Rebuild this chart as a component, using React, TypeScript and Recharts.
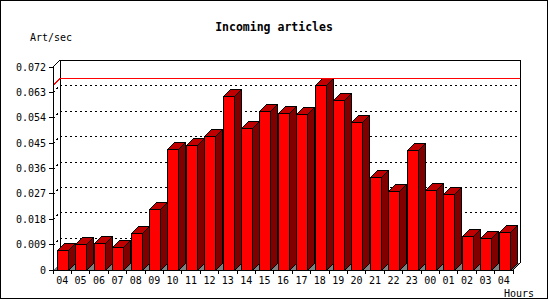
import { BarChart, Bar, XAxis, YAxis, CartesianGrid, ReferenceLine } from 'recharts'

const HOURS = [
  '04', '05', '06', '07', '08', '09', '10', '11', '12', '13', '14', '15', '16',
  '17', '18', '19', '20', '21', '22', '23', '00', '01', '02', '03', '04',
]
const ART_PER_SEC = [
  0.0071, 0.0091, 0.0095, 0.008, 0.013, 0.0215, 0.043, 0.0443, 0.0477, 0.0618,
  0.0503, 0.0564, 0.0556, 0.0552, 0.0655, 0.0603, 0.0524, 0.0331, 0.0279,
  0.0426, 0.0283, 0.0268, 0.012, 0.0112, 0.0134,
]
const Y_TICKS = [0, 0.009, 0.018, 0.027, 0.036, 0.045, 0.054, 0.063, 0.072]

const W = 550
const H = 300
const PLOT_LEFT = 53
const PLOT_TOP = 67
const PLOT_RIGHT = 513
const PLOT_BOTTOM = 270
const DEPTH = 7
const BAND = (PLOT_RIGHT - PLOT_LEFT) / HOURS.length
const FONT = '"DejaVu Sans Mono", monospace'

const data = HOURS.map((hour, i) => ({ hour, value: ART_PER_SEC[i] }))
const maxValue = Math.max(...ART_PER_SEC)

// front face + top + right side, like the old gd 3d bars
function Bar3D(props: any) {
  const { x, y, width, height } = props
  const d = DEPTH
  const x0 = Math.round(x) + 0.5
  const x1 = Math.round(x + width) + 0.5
  const y0 = Math.round(y) + 0.5
  const y1 = Math.round(y + height) + 0.5
  return (
    <g stroke="#000" strokeWidth={1}>
      <polygon
        points={`${x1},${y0} ${x1 + d},${y0 - d} ${x1 + d},${y1 - d} ${x1},${y1}`}
        fill="#800000"
      />
      <polygon
        points={`${x0},${y0} ${x0 + d},${y0 - d} ${x1 + d},${y0 - d} ${x1},${y0}`}
        fill="#c00000"
      />
      <rect x={x0} y={y0} width={x1 - x0} height={y1 - y0} fill="#ff0000" />
    </g>
  )
}

// dotted grid on the back wall, with the little slanted bit from the front axis
function gridLine(props: any) {
  const { x1, x2, y1, index } = props
  if (Math.abs(y1 - PLOT_TOP) < 1 || Math.abs(y1 - PLOT_BOTTOM) < 1) {
    return <g key={`grid-${index}`} />
  }
  const y = Math.round(y1) + 0.5
  return (
    <g key={`grid-${index}`} stroke="#000" strokeDasharray="2 3">
      <line x1={x1} y1={y} x2={x1 + DEPTH} y2={y - DEPTH} />
      <line x1={x1 + DEPTH} y1={y - DEPTH} x2={x2 + DEPTH} y2={y - DEPTH} />
    </g>
  )
}

function maxLine(props: any) {
  const { x1, x2, y1 } = props
  const y = Math.round(y1) + 0.5
  return (
    <g stroke="#ff0000">
      <line x1={x1} y1={y} x2={x1 + DEPTH} y2={y - DEPTH} />
      <line x1={x1 + DEPTH} y1={y - DEPTH} x2={x2 + DEPTH} y2={y - DEPTH} />
    </g>
  )
}

function HourTick(props: any) {
  const { x, payload, index } = props
  const half = BAND / 2
  return (
    <g>
      <line x1={x - half} y1={PLOT_BOTTOM} x2={x - half} y2={PLOT_BOTTOM + 4} stroke="#000" />
      {index === HOURS.length - 1 && (
        <line x1={x + half} y1={PLOT_BOTTOM} x2={x + half} y2={PLOT_BOTTOM + 4} stroke="#000" />
      )}
      <text x={x} y={PLOT_BOTTOM + 14} textAnchor="middle" fontSize={10} fontFamily={FONT} fill="#000">
        {payload.value}
      </text>
    </g>
  )
}

export default function App() {
  const backL = PLOT_LEFT + DEPTH
  const backR = PLOT_RIGHT + DEPTH
  const backT = PLOT_TOP - DEPTH
  const backB = PLOT_BOTTOM - DEPTH

  return (
    <div style={{ position: 'absolute', left: 0, top: 0, width: W, height: H, background: '#fff' }}>
      <style>{`svg line, svg rect, svg polygon, svg path { shape-rendering: crispEdges; }`}</style>

      <svg width={W} height={H} style={{ position: 'absolute', left: 0, top: 0 }}>
        <rect x={0.5} y={0.5} width={547} height={298} fill="#fff" stroke="#000" />
        <text x={274} y={31} textAnchor="middle" fontSize={11.5} fontWeight="bold" fontFamily={FONT}>
          Incoming articles
        </text>
        <text x={30} y={40.5} fontSize={10} fontFamily={FONT}>Art/sec</text>
        <text x={504} y={296.5} fontSize={10} fontFamily={FONT}>Hours</text>

        <polygon
          points={`${PLOT_LEFT},${PLOT_BOTTOM} ${PLOT_RIGHT},${PLOT_BOTTOM} ${backR},${backB} ${backL},${backB}`}
          fill="#808080"
        />
        <g stroke="#000" fill="none">
          <line x1={PLOT_LEFT} y1={PLOT_TOP} x2={backL} y2={backT} />
          <line x1={backL} y1={backT} x2={backR + 1} y2={backT} />
          <line x1={backL} y1={backT} x2={backL} y2={backB} />
          <line x1={backR} y1={backT} x2={backR} y2={backB} />
          <line x1={backR} y1={backB} x2={PLOT_RIGHT} y2={PLOT_BOTTOM} />
        </g>
      </svg>

      <div style={{ position: 'absolute', left: 0, top: 0 }}>
        <BarChart
          width={W}
          height={H}
          data={data}
          margin={{ top: PLOT_TOP, right: W - PLOT_RIGHT, bottom: 0, left: 0 }}
          barSize={11}
        >
          <CartesianGrid vertical={false} horizontal={gridLine} />
          <XAxis
            dataKey="hour"
            height={H - PLOT_BOTTOM}
            interval={0}
            tickLine={false}
            axisLine={{ stroke: '#000' }}
            tick={HourTick}
          />
          <YAxis
            width={PLOT_LEFT}
            domain={[0, 0.072]}
            ticks={Y_TICKS}
            interval={0}
            tickSize={4}
            tickMargin={3}
            axisLine={{ stroke: '#000' }}
            tickLine={{ stroke: '#000' }}
            tick={{ fontSize: 10, fontFamily: FONT, fill: '#000' }}
            tickFormatter={(v: number) => (v === 0 ? '0' : v.toFixed(3))}
          />
          <ReferenceLine y={maxValue} shape={maxLine} />
          <Bar dataKey="value" shape={Bar3D} isAnimationActive={false} />
        </BarChart>
      </div>
    </div>
  )
}
